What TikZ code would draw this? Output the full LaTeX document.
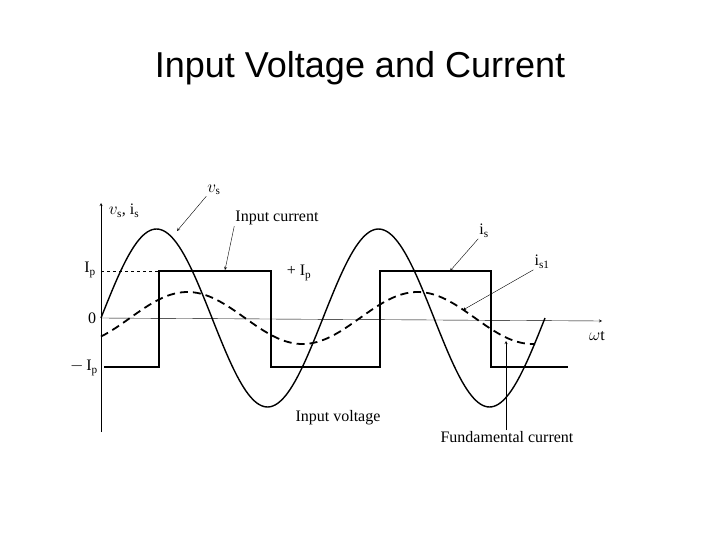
\documentclass[tikz,border=0pt]{standalone}
\usepackage{fontspec}
\setmainfont{Liberation Serif}
\newfontfamily\titlefont{Liberation Sans}
\begin{document}
\begin{tikzpicture}[x=1pt,y=-1pt,
  lbl/.style={font=\fontsize{16}{18}\selectfont,inner sep=1pt},
  ptr/.style={-stealth,thin},
  wave/.style={line width=1.8pt}]
\useasboundingbox (0,0) rectangle (720,540);
\node[font=\titlefont\fontsize{36}{40}\selectfont] (title) at (360,68) {Input Voltage and Current};
% axes
\coordinate (yb) at (101,432); \coordinate (yt) at (101,203);
\coordinate (x0) at (101,318); \coordinate (xe) at (602,321);
\draw[-stealth] (yb) -- (yt);
\draw[-stealth] (x0) -- (xe);
\draw[dashed,thin] (101,271) -- (159,271);
% voltage
\draw[line width=1.4pt] plot[domain=101:545,samples=200] (\x,{318-89*sin((\x-101)/111*180)});
% square current
\draw[wave] (104,367) -- (159,367) -- (159,271) -- (271,271) -- (271,367) -- (380,367) -- (380,271) -- (491,271) -- (491,367) -- (568,367);
% fundamental
\draw[wave,dash pattern=on 8pt off 5pt] plot[domain=101:535,samples=150] (\x,{318-26*sin((\x-130)/115*180)});
% labels
\node[lbl] (vsis) at (124,211) {$v_{\mathrm s}$, i$_{\mathrm s}$};
\node[lbl] (ip) at (90,270) {I$_{\mathrm p}$};
\node[lbl] (zero) at (92,318) {0};
\node[lbl] (mip) at (84,368) {$-$\,I$_{\mathrm p}$};
\node[lbl] (pip) at (299,273) {+ I$_{\mathrm p}$};
\node[lbl] (vs) at (214,190) {$v_{\mathrm s}$};
\node[lbl] (ic) at (277,218) {Input current};
\node[lbl] (iv) at (338,418) {Input voltage};
\node[lbl] (is) at (484,231) {i$_{\mathrm s}$};
\node[lbl] (is1) at (542,262) {i$_{\mathrm{s1}}$};
\node[lbl] (wt) at (597,336) {$\omega$t};
\node[lbl] (fc) at (507,437) {Fundamental current};
\coordinate (pvs) at (177,231); \coordinate (pic) at (225,270);
\coordinate (pis) at (450,271); \coordinate (pis1) at (463,310);
\coordinate (pfc) at (506,341);
\draw[ptr] (vs.south west) -- (pvs);
\draw[ptr] (ic.south west) -- (pic);
\draw[ptr] (is.south west) -- (pis);
\draw[ptr] (is1.south west) -- (pis1);
\draw[ptr] (fc.north -| pfc) -- (pfc);
\end{tikzpicture}
\end{document}
